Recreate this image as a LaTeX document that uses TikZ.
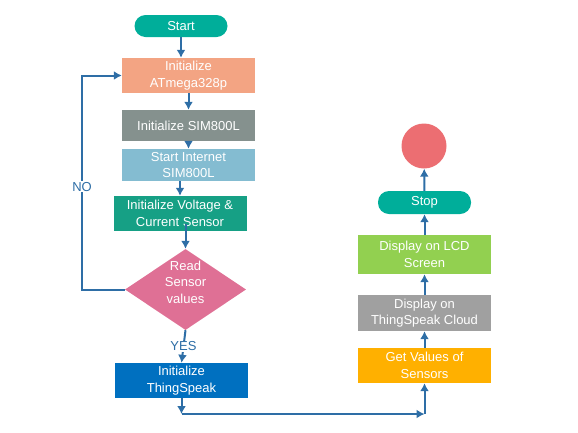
\documentclass[tikz,border=0pt]{standalone}
\usepackage{fontspec}
\setmainfont{Liberation Sans}
\usepackage{xcolor}
\usepackage{tikz}
\usetikzlibrary{shapes.geometric,arrows.meta}

\definecolor{pillteal}{HTML}{00AE9A}
\definecolor{salmon}{HTML}{F3A483}
\definecolor{slate}{HTML}{85918E}
\definecolor{skyblue}{HTML}{84BCD1}
\definecolor{seagreen}{HTML}{16A085}
\definecolor{rosepink}{HTML}{DF7095}
\definecolor{tsblue}{HTML}{0070C0}
\definecolor{amber}{HTML}{FFB000}
\definecolor{midgray}{HTML}{A0A0A0}
\definecolor{limegreen}{HTML}{92D050}
\definecolor{endred}{HTML}{EC6E72}
\definecolor{linkblue}{HTML}{2E6EA6}

\begin{document}
\begin{tikzpicture}[x=1pt,y=-1pt,>={Latex[length=8pt,width=9pt]},
	block/.style={inner sep=0pt, minimum width=133pt, minimum height=35pt, align=center, text=white, font=\fontsize{13}{16.5}\selectfont},
	pill/.style={block, minimum width=93pt, minimum height=22pt, rounded corners=11pt},
	flow/.style={->, draw=linkblue, line width=2pt},
	tag/.style={fill=white, inner sep=1pt, text=linkblue, font=\fontsize{13}{16}\selectfont}]
		\useasboundingbox (0,0) rectangle (578,432);
		
		% left column
		\node[pill, fill=pillteal] (start) at (181,26) {Start};
		\node[block, fill=salmon] (atmega) at (188.5,75.5) {Initialize\\ATmega328p};
		\node[block, fill=slate, minimum height=31pt] (sim) at (188.5,125.5) {Initialize SIM800L};
		\node[block, fill=skyblue, minimum height=32pt] (inet) at (188.5,165) {Start Internet\\SIM800L};
		\node[block, fill=seagreen] (volt) at (180,213.5) {Initialize Voltage \&\\Current Sensor};
		\node[diamond, aspect=1.5, inner sep=0pt, minimum width=121pt, minimum height=81pt, fill=rosepink] (read) at (185.5,289.5) {};
		\node[block, minimum width=0pt, minimum height=0pt] (readtxt) at (185.5,282) {Read\\Sensor\\values};
		\node[block, fill=tsblue] (thing) at (181.5,380.5) {Initialize\\ThingSpeak};
		
		% right column
		\node[block, fill=amber] (getv) at (424.5,365.5) {Get Values of\\Sensors};
		\node[block, fill=midgray, minimum height=36pt] (cloud) at (424.5,313) {Display on\\ThingSpeak Cloud};
		\node[block, fill=limegreen, minimum height=39pt] (lcd) at (424.5,254.5) {Display on LCD\\Screen};
		\node[pill, fill=pillteal, minimum height=23pt] (stop) at (424.5,202.5) {Stop};
		\node[circle, fill=endred, minimum size=45pt, inner sep=0pt] (finish) at (424,146) {};
		
		\coordinate (drop) at (181.5,414);
		\coordinate (turn) at (424.5,414);
		
		% connectors
		\draw[flow] (start.south) -- (start.south |- atmega.north);
		\draw[flow] (atmega) -- (sim);
		\draw[flow] (sim) -- (inet);
		\draw[flow] (volt.north |- inet.south) -- (volt.north);
		\draw[flow] (read.north |- 0,224) -- (read.north);
		\draw[flow] (read.south) -- node[tag] {YES} (thing.north);
		\draw[flow] (read.west) -| (82,75.5) node[tag, pos=0.74] {NO} -- (atmega.west);
		\draw[flow] (thing.south) -- (drop);
		\draw[flow] (drop) -- (turn);
		\draw[flow] (turn) -- (getv.south);
		\draw[flow] (getv) -- (cloud);
		\draw[flow] (cloud) -- (lcd);
		\draw[flow] (lcd) -- (stop);
		\draw[flow] (stop) -- (finish);
	\end{tikzpicture}
\end{document}
